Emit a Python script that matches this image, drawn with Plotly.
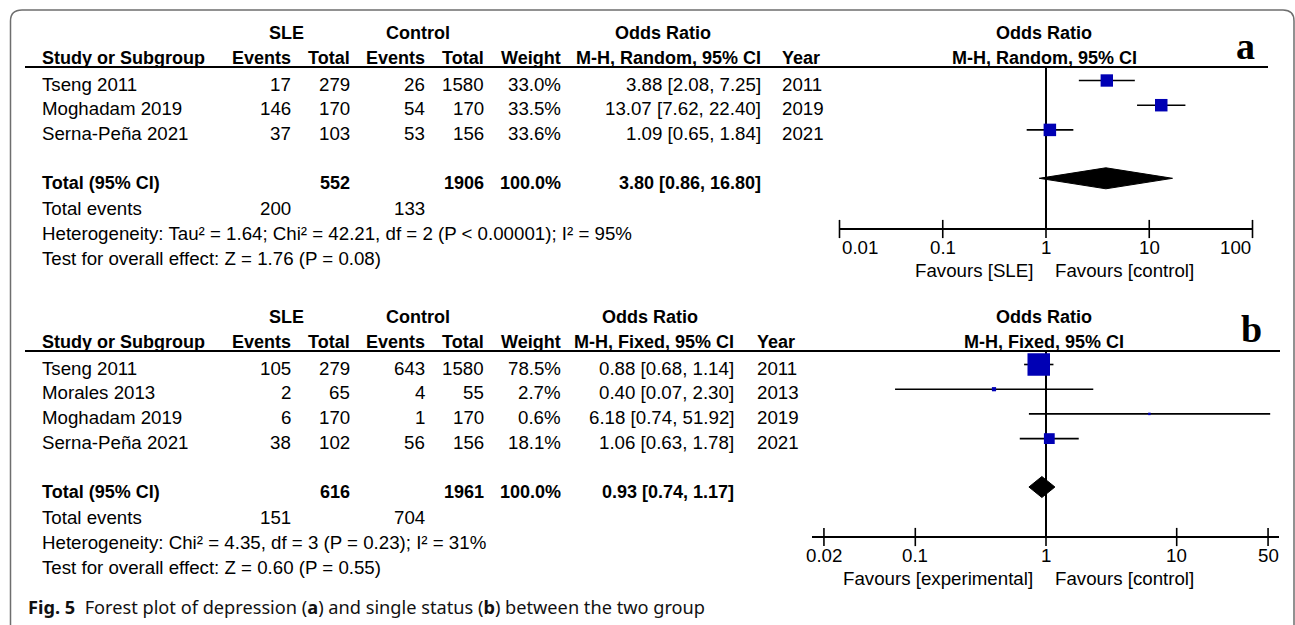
import math
import plotly.graph_objects as go

W, H = 1295, 625

# ---------------- data: panel a (depression) ----------------
a_study = ["Tseng 2011", "Moghadam 2019", "Serna-Peña 2021"]
a_sle_events = [17, 146, 37]
a_sle_total = [279, 170, 103]
a_ctl_events = [26, 54, 53]
a_ctl_total = [1580, 170, 156]
a_weight = [33.0, 33.5, 33.6]
a_or = [3.88, 13.07, 1.09]
a_lo = [2.08, 7.62, 0.65]
a_hi = [7.25, 22.40, 1.84]
a_year = [2011, 2019, 2021]
a_sum_totals = [552, 1906]
a_sum_events = [200, 133]
a_pooled = [3.80, 0.86, 16.80]
a_het = "Heterogeneity: Tau² = 1.64; Chi² = 42.21, df = 2 (P < 0.00001); I² = 95%"
a_test = "Test for overall effect: Z = 1.76 (P = 0.08)"
a_method = "M-H, Random, 95% CI"
a_ticks = [0.01, 0.1, 1, 10, 100]
a_ticklabels = ["0.01", "0.1", "1", "10", "100"]
a_favours = ["Favours [SLE]", "Favours [control]"]

# ---------------- data: panel b (single status) ----------------
b_study = ["Tseng 2011", "Morales 2013", "Moghadam 2019", "Serna-Peña 2021"]
b_sle_events = [105, 2, 6, 38]
b_sle_total = [279, 65, 170, 102]
b_ctl_events = [643, 4, 1, 56]
b_ctl_total = [1580, 55, 170, 156]
b_weight = [78.5, 2.7, 0.6, 18.1]
b_or = [0.88, 0.40, 6.18, 1.06]
b_lo = [0.68, 0.07, 0.74, 0.63]
b_hi = [1.14, 2.30, 51.92, 1.78]
b_year = [2011, 2013, 2019, 2021]
b_sum_totals = [616, 1961]
b_sum_events = [151, 704]
b_pooled = [0.93, 0.74, 1.17]
b_het = "Heterogeneity: Chi² = 4.35, df = 3 (P = 0.23); I² = 31%"
b_test = "Test for overall effect: Z = 0.60 (P = 0.55)"
b_method = "M-H, Fixed, 95% CI"
b_ticks = [0.02, 0.1, 1, 10, 50]
b_ticklabels = ["0.02", "0.1", "1", "10", "50"]
b_favours = ["Favours [experimental]", "Favours [control]"]

caption = ("<b>Fig. 5</b>  Forest plot of depression (<b>a</b>) and single status "
           "(<b>b</b>) between the two group")

# ---------------- styles / layout constants ----------------
FONT = "Liberation Sans, Arial, sans-serif"
FS = 18.7     # regular text
FSB = 18      # bold header text
BLUE = "#0000b4"
BLACK = "#000000"

COL_STUDY = 40
COL_SLE_EV = 293
COL_SLE_TOT = 352
COL_CTL_EV = 427
COL_CTL_TOT = 486
COL_WEIGHT = 563
ROW_STEP = 24.7
NULL_X = 1046  # pixel position of OR = 1

fig = go.Figure()
annotations = []
shapes = []


def txt(x, y, s, anchor="left", bold=False, size=None, family=FONT, xref="x"):
    if size is None:
        size = FSB if bold else FS
    if bold:
        s = f"<b>{s}</b>"
    annotations.append(dict(x=x, y=y, xref=xref, yref="y", text=s, showarrow=False,
                            xanchor=anchor, yanchor="middle",
                            font=dict(family=family, size=size, color=BLACK)))


def hline(x0, x1, y, width=2, xref="x"):
    shapes.append(dict(type="line", xref=xref, yref="y", x0=x0, x1=x1, y0=y, y1=y,
                       line=dict(color=BLACK, width=width), layer="above"))


def panel(top, axis, study, sle_ev, sle_tot, ctl_ev, ctl_tot, weight, orr, lo, hi, year,
          sum_tot, sum_ev, pooled, het, test, method, ticks, ticklabels, tickanchors,
          favours, or_right, year_left, or_head_center, line_end, axis_y, max_sq,
          letter, letter_x, letter_y, axis_full):
    h1 = top + 33
    h2 = top + 58
    line_y = top + 67
    # headers
    txt(286, h1, "SLE", "center", True)
    txt(452, h1, "Control", "right", True)
    txt(or_head_center, h1, "Odds Ratio", "center", True)
    txt(NULL_X - 2, h1, "Odds Ratio", "center", True)
    txt(COL_STUDY, h2, "Study or Subgroup", "left", True)
    txt(COL_SLE_EV, h2, "Events", "right", True)
    txt(COL_SLE_TOT, h2, "Total", "right", True)
    txt(COL_CTL_EV, h2, "Events", "right", True)
    txt(COL_CTL_TOT, h2, "Total", "right", True)
    txt(COL_WEIGHT, h2, "Weight", "right", True)
    txt(or_right, h2, method, "right", True)
    txt(year_left, h2, "Year", "left", True)
    txt(NULL_X - 2, h2, method, "center", True)
    hline(25, line_end, line_y)
    txt(letter_x, letter_y, letter, "center", True, size=38,
        family="Liberation Serif, Times New Roman, serif")

    n = len(study)
    rows = [top + 84 + i * ROW_STEP for i in range(n)]
    for i in range(n):
        y = rows[i]
        txt(COL_STUDY, y, study[i])
        txt(COL_SLE_EV, y, str(sle_ev[i]), "right")
        txt(COL_SLE_TOT, y, str(sle_tot[i]), "right")
        txt(COL_CTL_EV, y, str(ctl_ev[i]), "right")
        txt(COL_CTL_TOT, y, str(ctl_tot[i]), "right")
        txt(COL_WEIGHT, y, f"{weight[i]:.1f}%", "right")
        txt(or_right, y, f"{orr[i]:.2f} [{lo[i]:.2f}, {hi[i]:.2f}]", "right")
        txt(year_left, y, str(year[i]))

    tot_y = rows[-1] + 2 * ROW_STEP
    txt(COL_STUDY, tot_y, "Total (95% CI)", "left", True)
    txt(COL_SLE_TOT, tot_y, str(sum_tot[0]), "right", True)
    txt(COL_CTL_TOT, tot_y, str(sum_tot[1]), "right", True)
    txt(COL_WEIGHT, tot_y, "100.0%", "right", True)
    txt(or_right, tot_y, f"{pooled[0]:.2f} [{pooled[1]:.2f}, {pooled[2]:.2f}]", "right", True)
    ev_y = tot_y + 25.8
    txt(COL_STUDY, ev_y, "Total events")
    txt(COL_SLE_EV, ev_y, str(sum_ev[0]), "right")
    txt(COL_CTL_EV, ev_y, str(sum_ev[1]), "right")
    txt(COL_STUDY, ev_y + 25.2, het)
    txt(COL_STUDY, ev_y + 50.2, test)

    # ---- forest plot ----
    xa = "x2" if axis == 2 else "x3"
    mark_rows = [r - 3.5 for r in rows]
    # reference line at OR = 1
    shapes.append(dict(type="line", xref=xa, yref="y", x0=1, x1=1, y0=line_y, y1=axis_y,
                       line=dict(color=BLACK, width=2), layer="below"))
    # CI lines
    cx, cy = [], []
    for i in range(n):
        cx += [lo[i], hi[i], None]
        cy += [mark_rows[i], mark_rows[i], None]
    fig.add_trace(go.Scatter(x=cx, y=cy, xaxis=xa, yaxis="y", mode="lines",
                             line=dict(color=BLACK, width=1.6), hoverinfo="skip",
                             showlegend=False, cliponaxis=False))
    # squares, area proportional to weight
    wmax = max(weight)
    sizes = [max(2.5, max_sq * math.sqrt(w / wmax)) for w in weight]
    fig.add_trace(go.Scatter(x=orr, y=mark_rows, xaxis=xa, yaxis="y", mode="markers",
                             marker=dict(symbol="square", size=sizes, color=BLUE,
                                         opacity=1, line=dict(width=0)),
                             opacity=1, showlegend=False, cliponaxis=False))
    # pooled diamond
    dy = tot_y - 4.5
    hh = 10.5
    fig.add_trace(go.Scatter(x=[pooled[1], pooled[0], pooled[2], pooled[0], pooled[1]],
                             y=[dy, dy - hh, dy, dy + hh, dy], xaxis=xa, yaxis="y",
                             mode="lines", fill="toself", fillcolor=BLACK,
                             line=dict(color=BLACK, width=1), showlegend=False,
                             cliponaxis=False))
    # axis line
    if axis_full:
        shapes.append(dict(type="line", xref=f"{xa} domain", yref="y", x0=0, x1=1,
                           y0=axis_y, y1=axis_y, line=dict(color=BLACK, width=2)))
    else:
        shapes.append(dict(type="line", xref=xa, yref="y", x0=ticks[0], x1=ticks[-1],
                           y0=axis_y, y1=axis_y, line=dict(color=BLACK, width=2)))
    # tick marks
    fig.add_trace(go.Scatter(x=ticks, y=[axis_y] * len(ticks), xaxis=xa, yaxis="y",
                             mode="markers",
                             marker=dict(symbol="line-ns", size=13,
                                         line=dict(color=BLACK, width=1.6)),
                             showlegend=False, cliponaxis=False, hoverinfo="skip"))
    # tick labels (annotation x on a log axis is given in log10 units)
    for t, lab, anc in zip(ticks, ticklabels, tickanchors):
        txt(math.log10(t), axis_y + 18, lab, anc, xref=xa)
    txt(NULL_X - 11, axis_y + 41, favours[0], "right")
    txt(NULL_X + 7, axis_y + 41, favours[1], "left")


panel(0, 2, a_study, a_sle_events, a_sle_total, a_ctl_events, a_ctl_total, a_weight,
      a_or, a_lo, a_hi, a_year, a_sum_totals, a_sum_events, a_pooled, a_het, a_test,
      a_method, a_ticks, a_ticklabels, ["left", "center", "center", "center", "right"],
      a_favours, 763, 780, 663, 1268, 229, 12.5, "a", 1245, 46, False)

panel(284, 3, b_study, b_sle_events, b_sle_total, b_ctl_events, b_ctl_total, b_weight,
      b_or, b_lo, b_hi, b_year, b_sum_totals, b_sum_events, b_pooled, b_het, b_test,
      b_method, b_ticks, b_ticklabels, ["center"] * 5,
      b_favours, 736, 755, 650, 1280, 537, 22.5, "b", 1251, 329, True)

# caption
annotations.append(dict(x=26, y=607, xref="x", yref="y", text=caption, showarrow=False,
                        xanchor="left", yanchor="middle",
                        font=dict(family="Noto Sans, Open Sans, sans-serif", size=18.2,
                                  color="#111111")))

# outer rounded frame
shapes.append(dict(type="path", xref="x", yref="y",
                   path="M 10.5 640 L 10.5 21 Q 10.5 10 22 10 L 1283 10 Q 1294 10 1294 21 L 1294 640",
                   line=dict(color="#6e6e6e", width=1.5)))

# axes: pixel-coordinate base axes + log axes for the two forest plots
a_pxdec = 103.25
b_pxdec = 130.7
a_x0, a_x1 = NULL_X - 2 * a_pxdec, NULL_X + 2 * a_pxdec
b_x0, b_x1 = 812, 1279

fig.update_layout(
    width=W, height=H,
    margin=dict(l=0, r=0, t=0, b=0),
    paper_bgcolor="white", plot_bgcolor="rgba(0,0,0,0)",
    xaxis=dict(range=[0, W], domain=[0, 1], visible=False, fixedrange=True),
    yaxis=dict(range=[H, 0], domain=[0, 1], visible=False, fixedrange=True),
    xaxis2=dict(type="log", range=[(a_x0 - NULL_X) / a_pxdec, (a_x1 - NULL_X) / a_pxdec],
                domain=[a_x0 / W, a_x1 / W], anchor="free", position=0,
                visible=False, fixedrange=True),
    xaxis3=dict(type="log", range=[(b_x0 - NULL_X) / b_pxdec, (b_x1 - NULL_X) / b_pxdec],
                domain=[b_x0 / W, b_x1 / W], anchor="free", position=0,
                visible=False, fixedrange=True),
    annotations=annotations,
    shapes=shapes,
    showlegend=False,
)

fig.write_html("out.html", post_script="document.body.style.margin='0';",
               config={"displayModeBar": False})
